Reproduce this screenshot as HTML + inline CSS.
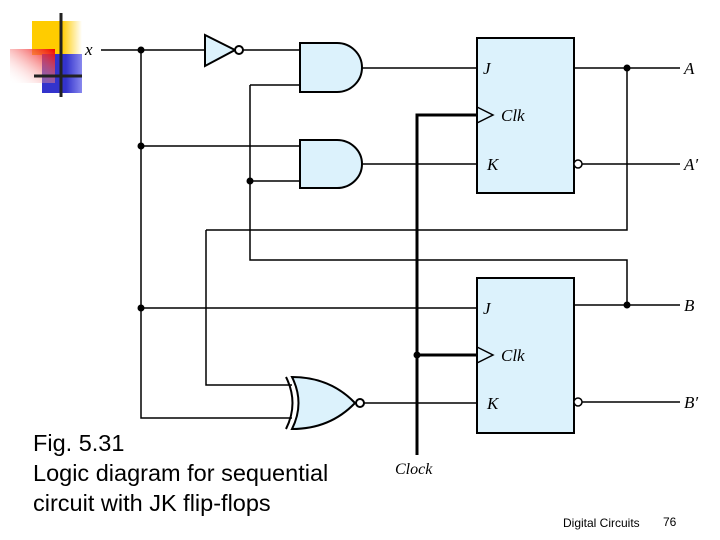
<!DOCTYPE html>
<html><head><style>
body{margin:0;width:720px;height:540px;background:#fff;overflow:hidden;position:relative;font-family:"Liberation Sans",sans-serif}
.t{position:absolute;font-size:23.5px;color:#000;line-height:30px}
</style></head><body>
<svg width="720" height="540" style="position:absolute;left:0;top:0">
<defs><linearGradient id="rg" x1="1" y1="0" x2="0" y2="1"><stop offset="0" stop-color="#e00"/><stop offset="1" stop-color="#fff" stop-opacity="0"/></linearGradient>
<linearGradient id="yg" x1="0" x2="1"><stop offset="0.6" stop-color="#fc0"/><stop offset="1" stop-color="#fff"/></linearGradient>
<linearGradient id="bg" x1="0" x2="1"><stop offset="0.6" stop-color="#33c"/><stop offset="1" stop-color="#88e"/></linearGradient></defs>
<rect x="32" y="21" width="50" height="34" fill="url(#yg)"/>
<rect x="42" y="54" width="40" height="39" fill="url(#bg)"/>
<rect x="10" y="49" width="45" height="34" fill="url(#rg)"/>
<line x1="61" y1="13" x2="61" y2="97" stroke="#222" stroke-width="3"/>
<line x1="34" y1="76" x2="82" y2="76" stroke="#222" stroke-width="3"/>
<g stroke="#000" stroke-width="1.5" fill="none">
<path d="M101 50H205M243 50H300M141 50V418H292M141 146H300M141 308H477M250 85H300M250 85V260H627V305M250 181H300M206 230H627V68M206 230V385H292M362 68H477M362 164H477M574 68H680M582 164H680M574 305H680M364 403H477M582 402H680"/>
<path d="M417 455V115H477M417 355H477" stroke-width="3"/>
</g>
<g stroke="#000" stroke-width="2" fill="#dcf2fc">
<path d="M205 35L235 50L205 66Z"/><circle cx="239" cy="50" r="4" fill="#fff"/>
<path d="M300 43H337A25 24.5 0 0 1 337 92H300Z"/>
<path d="M300 140H337A25 24 0 0 1 337 188H300Z"/>
<path d="M292 377Q305 403 292 429Q330 429 355 403Q330 377 292 377Z"/>
<path d="M286 377Q299 403 286 429" fill="none"/>
<circle cx="360" cy="403" r="4" fill="#fff"/>
<rect x="477" y="38" width="97" height="155"/>
<rect x="477" y="278" width="97" height="155"/>
<path d="M477 107L493 115L477 123M477 347L493 355L477 363" fill="none" stroke-width="1.5"/>
<circle cx="578" cy="164" r="4" fill="#fff" stroke-width="1.5"/>
<circle cx="578" cy="402" r="4" fill="#fff" stroke-width="1.5"/>
</g>
<g fill="#000"><circle cx="141" cy="50" r="3.5"/><circle cx="141" cy="146" r="3.5"/><circle cx="141" cy="308" r="3.5"/><circle cx="250" cy="181" r="3.5"/><circle cx="627" cy="68" r="3.5"/><circle cx="627" cy="305" r="3.5"/><circle cx="417" cy="355" r="3.5"/></g>
<g font-family="Liberation Serif,serif" font-style="italic" font-size="17">
<text x="85" y="55">x</text><text x="483" y="74">J</text><text x="501" y="121">Clk</text><text x="487" y="170">K</text>
<text x="483" y="314">J</text><text x="501" y="361">Clk</text><text x="487" y="409">K</text>
<text x="684" y="74">A</text><text x="684" y="170">A′</text><text x="684" y="311">B</text><text x="684" y="408">B′</text>
<text x="395" y="474" font-size="16">Clock</text></g>
</svg>
<div class="t" style="left:33px;top:428px">Fig. 5.31<br>Logic diagram for sequential<br>circuit with JK flip-flops</div>
<div style="position:absolute;left:563px;top:516px;font-size:12px">Digital Circuits</div>
<div style="position:absolute;left:663px;top:515px;font-size:12px">76</div>
</body></html>
